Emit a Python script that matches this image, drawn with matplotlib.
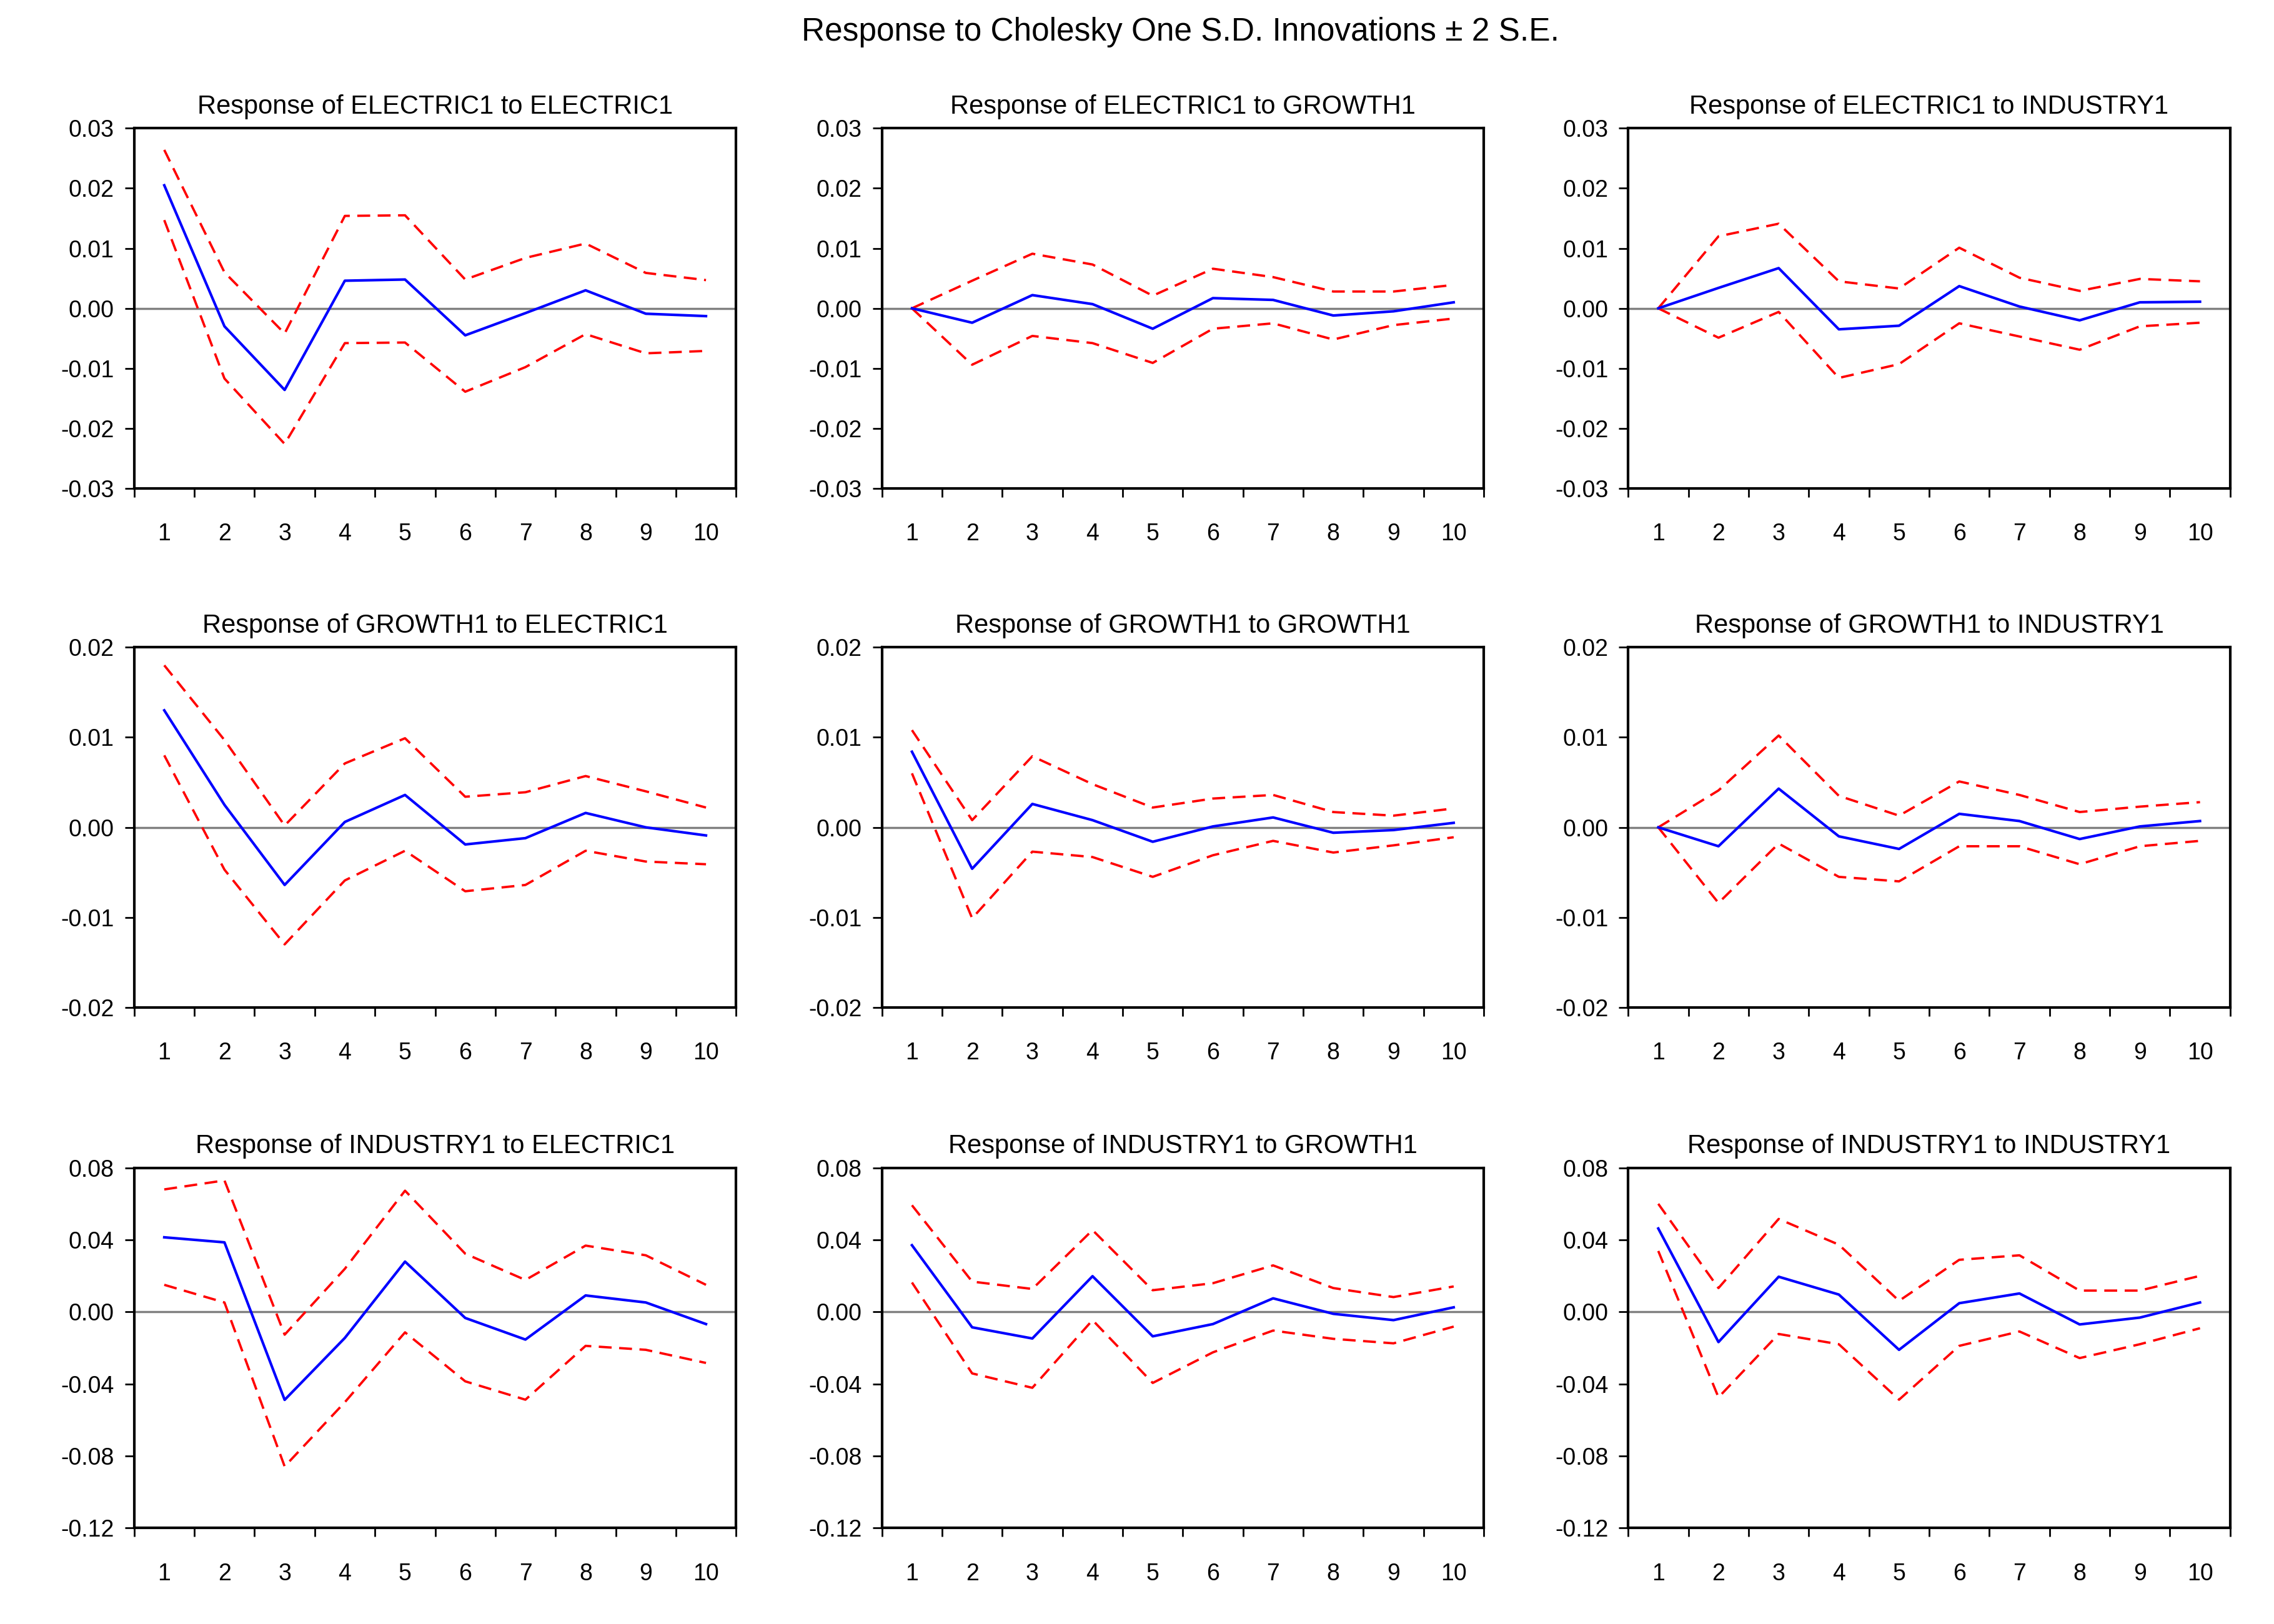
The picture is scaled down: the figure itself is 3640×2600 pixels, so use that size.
import numpy as np
import matplotlib
matplotlib.use("Agg")
import matplotlib.pyplot as plt
from matplotlib.ticker import FixedLocator, FormatStrFormatter

plt.rcParams["font.family"] = ["Liberation Sans", "DejaVu Sans"]

periods = np.arange(1, 11)
variables = ["ELECTRIC1", "GROWTH1", "INDUSTRY1"]

# response of ELECTRIC1
e_e = [0.0205, -0.0030, -0.0136, 0.0046, 0.0048, -0.0045, -0.0008, 0.0030, -0.0009, -0.0013]
e_e_hi = [0.0264, 0.0060, -0.0042, 0.0154, 0.0155, 0.0048, 0.0084, 0.0108, 0.0059, 0.0047]
e_e_lo = [0.0147, -0.0117, -0.0226, -0.0058, -0.0057, -0.0139, -0.0098, -0.0043, -0.0075, -0.0071]

e_g = [0.0, -0.0024, 0.0022, 0.0007, -0.0034, 0.0017, 0.0014, -0.0012, -0.0005, 0.0010]
e_g_hi = [0.0, 0.0046, 0.0091, 0.0073, 0.0021, 0.0066, 0.0052, 0.0028, 0.0028, 0.0039]
e_g_lo = [0.0, -0.0094, -0.0046, -0.0058, -0.0091, -0.0034, -0.0025, -0.0052, -0.0028, -0.0017]

e_i = [0.0, 0.0034, 0.0067, -0.0035, -0.0029, 0.0037, 0.0003, -0.0020, 0.0010, 0.0011]
e_i_hi = [0.0, 0.0120, 0.0141, 0.0045, 0.0033, 0.0101, 0.0051, 0.0029, 0.0049, 0.0045]
e_i_lo = [0.0, -0.0049, -0.0006, -0.0116, -0.0093, -0.0025, -0.0047, -0.0069, -0.0030, -0.0024]

# response of GROWTH1
g_e = [0.0130, 0.0025, -0.0064, 0.0006, 0.0036, -0.0019, -0.0012, 0.0016, 0.0000, -0.0009]
g_e_hi = [0.0180, 0.0097, 0.0002, 0.0071, 0.0099, 0.0034, 0.0039, 0.0057, 0.0040, 0.0022]
g_e_lo = [0.0080, -0.0047, -0.0130, -0.0059, -0.0026, -0.0071, -0.0064, -0.0026, -0.0038, -0.0041]

g_g = [0.0084, -0.0046, 0.0026, 0.0008, -0.0016, 0.0001, 0.0011, -0.0006, -0.0003, 0.0005]
g_g_hi = [0.0108, 0.0008, 0.0079, 0.0048, 0.0022, 0.0032, 0.0036, 0.0017, 0.0013, 0.0021]
g_g_lo = [0.0060, -0.0101, -0.0027, -0.0033, -0.0055, -0.0031, -0.0015, -0.0028, -0.0020, -0.0011]

g_i = [0.0, -0.0021, 0.0043, -0.0010, -0.0024, 0.0015, 0.0007, -0.0013, 0.0001, 0.0007]
g_i_hi = [0.0, 0.0041, 0.0102, 0.0035, 0.0013, 0.0051, 0.0036, 0.0017, 0.0023, 0.0028]
g_i_lo = [0.0, -0.0084, -0.0018, -0.0055, -0.0060, -0.0021, -0.0021, -0.0041, -0.0021, -0.0015]

# response of INDUSTRY1
i_e = [0.0414, 0.0386, -0.0489, -0.0145, 0.0279, -0.0034, -0.0154, 0.0091, 0.0052, -0.0068]
i_e_hi = [0.0680, 0.0730, -0.0127, 0.0239, 0.0673, 0.0323, 0.0177, 0.0368, 0.0314, 0.0150]
i_e_lo = [0.0150, 0.0052, -0.0859, -0.0502, -0.0114, -0.0386, -0.0488, -0.0189, -0.0211, -0.0284]

i_g = [0.0370, -0.0086, -0.0148, 0.0198, -0.0136, -0.0068, 0.0075, -0.0011, -0.0046, 0.0025]
i_g_hi = [0.0592, 0.0168, 0.0127, 0.0454, 0.0120, 0.0159, 0.0258, 0.0132, 0.0082, 0.0141]
i_g_lo = [0.0163, -0.0342, -0.0422, -0.0046, -0.0395, -0.0225, -0.0104, -0.0150, -0.0175, -0.0082]

i_i = [0.0463, -0.0168, 0.0195, 0.0096, -0.0211, 0.0048, 0.0102, -0.0070, -0.0032, 0.0052]
i_i_hi = [0.0600, 0.0132, 0.0516, 0.0373, 0.0061, 0.0289, 0.0314, 0.0118, 0.0118, 0.0200]
i_i_lo = [0.0338, -0.0475, -0.0123, -0.0180, -0.0488, -0.0189, -0.0109, -0.0257, -0.0180, -0.0091]

panels = [
    [(e_e, e_e_hi, e_e_lo), (e_g, e_g_hi, e_g_lo), (e_i, e_i_hi, e_i_lo)],
    [(g_e, g_e_hi, g_e_lo), (g_g, g_g_hi, g_g_lo), (g_i, g_i_hi, g_i_lo)],
    [(i_e, i_e_hi, i_e_lo), (i_g, i_g_hi, i_g_lo), (i_i, i_i_hi, i_i_lo)],
]
row_yticks = [
    [-0.03, -0.02, -0.01, 0.00, 0.01, 0.02, 0.03],
    [-0.02, -0.01, 0.00, 0.01, 0.02],
    [-0.12, -0.08, -0.04, 0.00, 0.04, 0.08],
]

fig = plt.figure(figsize=(36.4, 26), dpi=100)

lefts = [0.0590, 0.3878, 0.7160]
bottoms = [0.6993, 0.3797, 0.0592]
w, h = 0.2647, 0.2217

for r in range(3):
    for c in range(3):
        ax = fig.add_axes([lefts[c], bottoms[r], w, h])
        mid, hi, lo = panels[r][c]
        ax.axhline(0, color="#808080", lw=2.5, zorder=1)
        ax.plot(periods, mid, color="#0000ff", lw=3.0, zorder=3)
        ax.plot(periods, hi, color="#ff0000", lw=2.7, ls=(0, (5.5, 3.2)), zorder=2)
        ax.plot(periods, lo, color="#ff0000", lw=2.7, ls=(0, (5.5, 3.2)), zorder=2)

        yt = row_yticks[r]
        ax.set_ylim(yt[0], yt[-1])
        ax.set_yticks(yt)
        ax.yaxis.set_major_formatter(FormatStrFormatter("%.2f"))
        ax.set_xlim(0.5, 10.5)
        ax.set_xticks(periods)
        ax.set_xticklabels([str(p) for p in periods])
        ax.xaxis.set_minor_locator(FixedLocator(np.arange(0.5, 11, 1.0)))

        ax.tick_params(axis="x", which="major", length=0, pad=40, labelsize=27)
        ax.tick_params(axis="x", which="minor", length=10, width=2, direction="out")
        ax.tick_params(axis="y", which="major", length=11, width=2, pad=12,
                       direction="out", labelsize=27)
        for sp in ax.spines.values():
            sp.set_linewidth(3)
            sp.set_color("black")

        ax.set_title(f"Response of {variables[r]} to {variables[c]}",
                     fontsize=30, pad=17)

fig.text(0.519, 0.980, "Response to Cholesky One S.D. Innovations \u00b1 2 S.E.",
         ha="center", va="center", fontsize=37)

fig.savefig("out.png", dpi=100, facecolor="white")
